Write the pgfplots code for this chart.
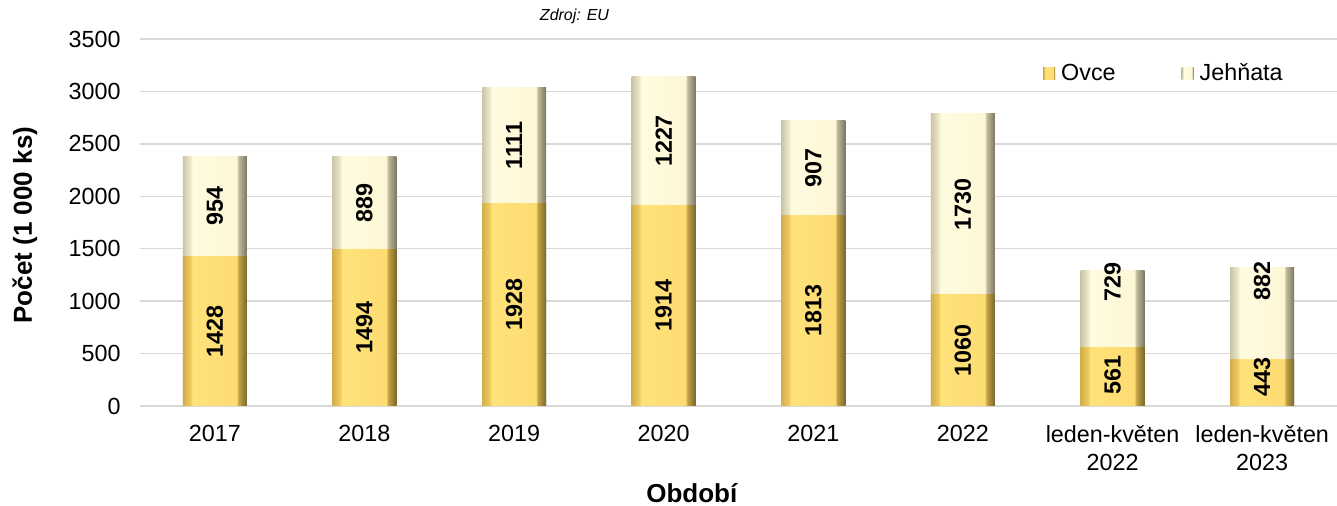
\documentclass[border=0pt]{standalone}
\usepackage{pgfplots}
\pgfplotsset{compat=1.18}
\usepackage{pgfplotstable}
\usepackage{fontspec}
\setmainfont{Liberation Sans}
\definecolor{gridc}{HTML}{D9D9D9}
\definecolor{ovA}{HTML}{D2AE48}
\definecolor{ovB}{HTML}{EFCB5E}
\definecolor{ovF}{HTML}{FFE27A}
\definecolor{ovG}{HTML}{FDDC72}
\definecolor{ovD}{HTML}{C4A243}
\definecolor{ovE}{HTML}{7A672E}
\definecolor{jeA}{HTML}{CBC4A6}
\definecolor{jeB}{HTML}{EEE8CC}
\definecolor{jeF}{HTML}{FFFBDF}
\definecolor{jeG}{HTML}{FDF7D6}
\definecolor{jeD}{HTML}{C2BB9C}
\definecolor{jeE}{HTML}{7B7662}
\pgfdeclarehorizontalshading{ovbevel}{100bp}{color(0bp)=(ovA); color(25bp)=(ovA); color(31bp)=(ovB); color(32.5bp)=(ovF); color(67bp)=(ovG); color(68.5bp)=(ovD); color(75bp)=(ovE); color(100bp)=(ovE)}
\pgfdeclarehorizontalshading{jebevel}{100bp}{color(0bp)=(jeA); color(25bp)=(jeA); color(31bp)=(jeB); color(32.5bp)=(jeF); color(67bp)=(jeG); color(68.5bp)=(jeD); color(75bp)=(jeE); color(100bp)=(jeE)}
\pgfplotstableread{
x ovce jehnata olab jlab
0 1428 954 714 1905
1 1494 889 747 1938.5
2 1928 1111 964 2483.5
3 1914 1227 957 2527.5
4 1813 907 906.5 2266.5
5 1060 1730 530 1925
6 561 729 296 1179
7 443 882 272 1195
}\datatable
\pgfplotsset{
  vallabel/.style={draw=none, mark=none, forget plot, point meta=explicit,
    nodes near coords={\pgfmathprintnumber[assume math mode=true,1000 sep={}]{\pgfplotspointmeta}},
    every node near coord/.append style={rotate=90, anchor=center, text=black, font=\bfseries\fontsize{17.5}{21}\selectfont}},
}
\begin{document}
\begin{tikzpicture}
\useasboundingbox (-105pt,-75pt) rectangle (897.75pt,304.5pt);
\begin{axis}[
  scale only axis, width=897.75pt, height=275.25pt,
  xmin=-0.5, xmax=7.5, ymin=0, ymax=3500,
  ytick={0,500,...,3500},
  xtick={0,...,7},
  xticklabels={2017,2018,2019,2020,2021,2022,{leden-květen\\2022},{leden-květen\\2023}},
  yticklabel={\pgfmathprintnumber[assume math mode=true,1000 sep={}]{\tick}},
  xticklabel style={align=center, font=\fontsize{17.5}{21}\selectfont, yshift=-11pt},
  yticklabel style={font=\fontsize{17.5}{21}\selectfont, xshift=-11pt},
  axis line style={draw=none},
  major tick length=0pt,
  ymajorgrids, major grid style={gridc, line width=1.1pt},
  xlabel={Období}, ylabel={Počet (1 000 ks)},
  xlabel style={font=\bfseries\fontsize{19.5}{23}\selectfont, at={(axis description cs:0.461,-0.238)}, anchor=center},
  ylabel style={font=\bfseries\fontsize{19.5}{23}\selectfont, at={(axis description cs:-0.0961,0.493)}, anchor=center},
  legend columns=2,
  legend style={draw=none, fill=none, at={(axis description cs:0.751,0.907)}, anchor=west,
    font=\fontsize{17.5}{21}\selectfont,
    /tikz/every odd column/.append style={column sep=3pt},
    /tikz/every even column/.append style={column sep=48pt},
    nodes={inner sep=1.5pt}},
  legend image code/.code={\path[#1, draw=none] (0pt,-4.5pt) rectangle (9pt,4.5pt);},
  clip=false,
]
\addlegendimage{shade, shading=ovbevel, draw=none}
\addlegendentry{Ovce}
\addlegendimage{shade, shading=jebevel, draw=none}
\addlegendentry{Jehňata}
\pgfplotsinvokeforeach{0,1,2,3,4,5,6,7}{
  \addplot[ybar, bar width=48pt, bar shift=0pt, draw=none, shade, shading=jebevel, forget plot,
    restrict x to domain=#1:#1]
    table[x=x, y expr=\thisrow{ovce}+\thisrow{jehnata}] {\datatable};
  \addplot[ybar, bar width=48pt, bar shift=0pt, draw=none, shade, shading=ovbevel, forget plot,
    restrict x to domain=#1:#1]
    table[x=x, y=ovce] {\datatable};
}
\addplot[vallabel] table[x=x, y=olab, meta=ovce] {\datatable};
\addplot[vallabel] table[x=x, y=jlab, meta=jehnata] {\datatable};
\node[font=\itshape\fontsize{12}{14}\selectfont] at (axis description cs:0.363,1.063) {Zdroj: EU};
\end{axis}
\end{tikzpicture}
\end{document}
